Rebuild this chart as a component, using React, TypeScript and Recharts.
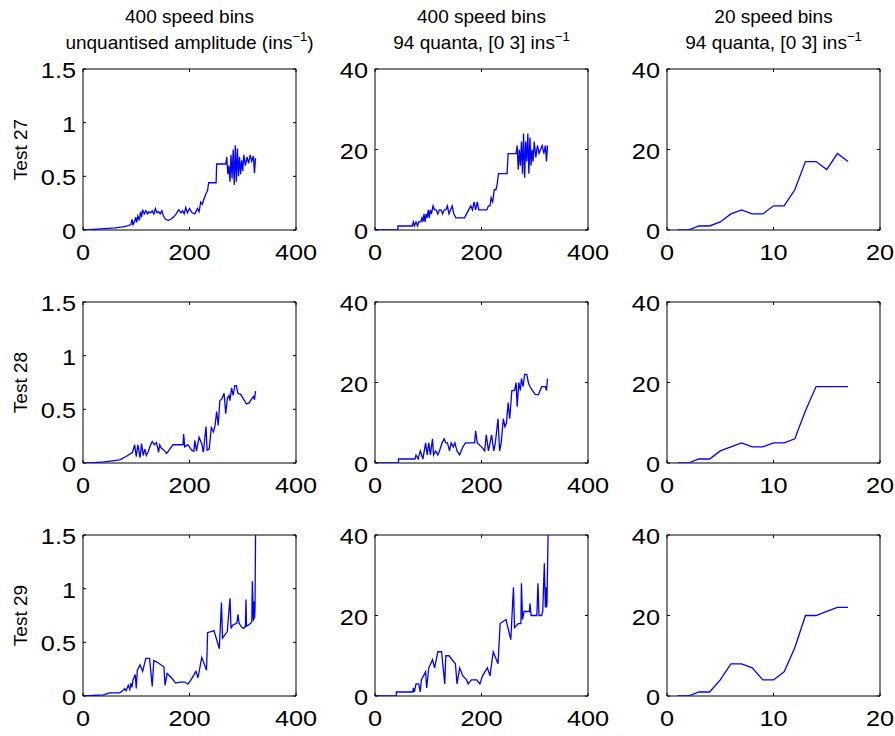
import React from "react";
import { LineChart, Line, XAxis, YAxis, ReferenceArea } from "recharts";

type Pt = [number, number];

const rowLabels = ["Test 27", "Test 28", "Test 29"];
const binX = [1, 2, 3, 4, 5, 6, 7, 8, 9, 10, 11, 12, 13, 14, 15, 16, 17];

// 400 bins, unquantised amplitude
const t27Amp: Pt[] = [
  [0, 0], [20, 0.005], [40, 0.012], [60, 0.02], [75, 0.03], [85, 0.04], [90, 0.05], [92, 0.1],
  [94, 0.05], [97, 0.08], [99, 0.12], [101, 0.07], [103, 0.13], [106, 0.09], [108, 0.17], [110, 0.12],
  [112, 0.19], [115, 0.15], [118, 0.18], [121, 0.15], [124, 0.17], [127, 0.16], [130, 0.18], [133, 0.15],
  [136, 0.2], [139, 0.16], [142, 0.17], [145, 0.15], [148, 0.18], [151, 0.13], [155, 0.1], [160, 0.09],
  [165, 0.1], [170, 0.12], [175, 0.15], [180, 0.19], [184, 0.16], [187, 0.18], [190, 0.15], [193, 0.21],
  [196, 0.16], [200, 0.2], [205, 0.16], [210, 0.15], [215, 0.2], [218, 0.17], [221, 0.26], [224, 0.24],
  [228, 0.3], [231, 0.34], [234, 0.37], [236, 0.44], [250, 0.44], [251, 0.615], [268, 0.615], [270, 0.68],
  [272, 0.52], [274, 0.6], [276, 0.45], [278, 0.7], [280, 0.48], [282, 0.75], [284, 0.42], [286, 0.79],
  [288, 0.45], [290, 0.76], [292, 0.5], [294, 0.68], [296, 0.52], [298, 0.65], [300, 0.55], [302, 0.7],
  [305, 0.6], [308, 0.68], [311, 0.62], [314, 0.7], [317, 0.64], [320, 0.69], [322, 0.53], [324, 0.67],
];
const t28Amp: Pt[] = [
  [0, 0], [20, 0.004], [40, 0.01], [55, 0.02], [69, 0.03], [81, 0.06], [93, 0.1], [97, 0.17],
  [100, 0.06], [103, 0.17], [107, 0.05], [110, 0.18], [113, 0.07], [116, 0.13], [119, 0.07], [122, 0.1],
  [127, 0.17], [130, 0.2], [134, 0.17], [138, 0.19], [142, 0.1], [144, 0.17], [147, 0.14], [152, 0.12],
  [157, 0.09], [163, 0.13], [169, 0.17], [182, 0.17], [188, 0.17], [189, 0.27], [191, 0.15], [197, 0.17],
  [204, 0.12], [208, 0.11], [210, 0.21], [213, 0.11], [218, 0.24], [223, 0.18], [226, 0.1], [231, 0.34],
  [233, 0.12], [237, 0.13], [241, 0.33], [245, 0.29], [248, 0.35], [251, 0.48], [254, 0.35], [257, 0.58],
  [261, 0.6], [265, 0.65], [268, 0.46], [271, 0.6], [274, 0.63], [276, 0.58], [279, 0.7], [282, 0.63],
  [285, 0.72], [288, 0.72], [291, 0.65], [296, 0.64], [301, 0.6], [307, 0.55], [312, 0.56], [317, 0.6],
  [320, 0.62], [322, 0.59], [324, 0.67],
];
const t29Amp: Pt[] = [
  [0, 0], [19, 0.005], [38, 0.01], [50, 0.03], [69, 0.03], [75, 0.05], [78, 0.07], [81, 0.05],
  [85, 0.1], [88, 0.06], [90, 0.12], [92, 0.08], [94, 0.15], [98, 0.2], [100, 0.07], [102, 0.24],
  [107, 0.29], [112, 0.23], [118, 0.35], [125, 0.35], [130, 0.09], [133, 0.33], [141, 0.31], [152, 0.27],
  [154, 0.1], [158, 0.21], [166, 0.17], [174, 0.12], [182, 0.13], [191, 0.13], [197, 0.11], [204, 0.16],
  [212, 0.23], [216, 0.17], [223, 0.36], [232, 0.24], [234, 0.59], [246, 0.61], [256, 0.44], [260, 0.87],
  [262, 0.54], [271, 0.6], [276, 0.91], [278, 0.63], [281, 0.66], [289, 0.68], [291, 0.76], [293, 0.68],
  [298, 0.64], [302, 0.63], [305, 0.65], [306, 0.9], [307, 0.65], [313, 0.67], [317, 0.69], [318, 1.07],
  [320, 0.7], [321, 0.88], [322, 0.72], [323, 0.8], [324, 1.5],
];

// 400 bins, 94 quanta
const t27Quant: Pt[] = [
  [0, 0], [43, 0], [43, 1], [70, 1], [72, 2], [74, 1], [77, 2], [80, 1], [82, 2], [86, 2], [88, 3],
  [90, 2], [92, 4], [94, 2], [96, 4], [98, 3], [100, 5], [102, 3], [104, 5], [106, 4], [109, 6],
  [112, 5], [115, 5], [118, 4], [121, 5], [124, 5], [127, 4], [130, 5], [133, 5], [136, 6], [139, 4],
  [142, 5], [145, 6], [148, 4], [152, 3], [160, 3], [168, 3], [172, 4], [176, 5], [180, 6], [183, 5],
  [186, 7], [189, 5], [192, 7], [195, 5], [200, 5], [210, 5], [213, 6], [216, 6], [218, 8], [221, 7],
  [224, 10], [227, 10], [229, 11], [232, 14], [248, 14], [250, 19], [265, 19], [267, 21], [269, 15],
  [271, 20], [273, 16], [275, 22], [277, 14], [279, 24], [281, 13], [283, 22], [285, 17], [287, 24],
  [289, 14], [291, 23], [293, 16], [295, 20], [297, 17], [299, 22], [302, 18], [305, 21], [308, 19],
  [311, 20], [314, 21], [317, 19], [320, 21], [322, 17], [324, 21],
];
const t28Quant: Pt[] = [
  [0, 0], [44, 0], [44, 1], [75, 1], [77, 2], [81, 1], [85, 3], [90, 1], [95, 5], [98, 2], [101, 5],
  [104, 2], [108, 6], [110, 2], [114, 3], [118, 2], [121, 3], [126, 5], [130, 6], [133, 5], [136, 5],
  [140, 3], [143, 5], [147, 4], [150, 5], [154, 3], [159, 2], [165, 4], [170, 5], [187, 5], [189, 8],
  [192, 5], [200, 4], [206, 3], [209, 7], [213, 3], [219, 7], [223, 3], [226, 5], [231, 11], [234, 3],
  [237, 5], [241, 11], [244, 9], [247, 10], [250, 15], [253, 11], [257, 18], [262, 18], [265, 20],
  [267, 14], [270, 20], [273, 18], [275, 21], [278, 19], [281, 22], [285, 22], [288, 20], [291, 19],
  [296, 18], [301, 17], [307, 17], [313, 19], [320, 19], [322, 18], [324, 21],
];
const t29Quant: Pt[] = [
  [0, 0], [40, 0], [40, 1], [71, 1], [72, 2], [74, 1], [77, 3], [82, 3], [85, 1], [87, 4], [91, 5],
  [95, 6], [97, 2], [101, 7], [108, 9], [112, 7], [118, 11], [125, 11], [131, 3], [133, 10], [139, 10],
  [151, 8], [154, 3], [159, 7], [165, 5], [172, 4], [175, 3], [181, 4], [191, 4], [197, 3], [202, 5],
  [211, 7], [216, 5], [222, 11], [231, 8], [235, 18], [246, 19], [255, 14], [260, 27], [262, 17],
  [269, 18], [274, 18], [275, 28], [277, 19], [280, 21], [290, 21], [291, 23], [293, 20], [304, 20],
  [306, 28], [308, 20], [313, 20], [315, 21], [318, 33], [320, 22], [321, 27], [322, 22], [323, 23],
  [325, 40],
];

// 20 bins, 94 quanta
const t27Bins = [0, 0, 1, 1, 2, 4, 5, 4, 4, 6, 6, 10, 17, 17, 15, 19, 17];
const t28Bins = [0, 0, 1, 1, 3, 4, 5, 4, 4, 5, 5, 6, 13, 19, 19, 19, 19];
const t29Bins = [0, 0, 1, 1, 4, 8, 8, 7, 4, 4, 6, 12, 20, 20, 21, 22, 22];

const FONT = '"Liberation Sans", Arial, Helvetica, sans-serif';
const PW = 213;
const PH = 161;
const colLeft = [83, 375, 667];
const rowTop = [69, 302, 535];

const toRows = (pts: Pt[]) => pts.map(([x, y]) => ({ x, y }));
const binRows = (vals: number[]) => vals.map((y, i) => ({ x: binX[i], y }));

const XTick = (props: any) => {
  const { x, y, payload } = props;
  return (
    <g>
      <line x1={x} y1={y} x2={x} y2={y - 3} stroke="#000" />
      <line x1={x} y1={y - PH} x2={x} y2={y - PH + 3} stroke="#000" />
      <text
        transform={`translate(${x},${y + 30}) scale(1.15,1)`}
        textAnchor="middle"
        fontSize={22}
        fontFamily={FONT}
        fill="#000"
      >
        {payload.value}
      </text>
    </g>
  );
};

const YTick = (props: any) => {
  const { x, y, payload } = props;
  return (
    <g>
      <line x1={x} y1={y} x2={x + 3} y2={y} stroke="#000" />
      <line x1={x + PW} y1={y} x2={x + PW - 3} y2={y} stroke="#000" />
      <text
        transform={`translate(${x - 7},${y + 9}) scale(1.15,1)`}
        textAnchor="end"
        fontSize={22}
        fontFamily={FONT}
        fill="#000"
      >
        {payload.value}
      </text>
    </g>
  );
};

interface PanelProps {
  data: { x: number; y: number }[];
  xMax: number;
  xTicks: number[];
  yMax: number;
  yTicks: number[];
  left: number;
  top: number;
}

const Panel = ({ data, xMax, xTicks, yMax, yTicks, left, top }: PanelProps) => (
  <div style={{ position: "absolute", left: left - 60, top: top - 20 }}>
    <LineChart width={303} height={221} data={data} margin={{ top: 20, right: 30, bottom: 0, left: 0 }}>
      <XAxis
        type="number"
        dataKey="x"
        domain={[0, xMax]}
        ticks={xTicks}
        interval={0}
        height={40}
        tickSize={0}
        tickMargin={0}
        axisLine={false}
        tickLine={false}
        allowDataOverflow
        tick={(p: any) => <XTick {...p} />}
      />
      <YAxis
        type="number"
        domain={[0, yMax]}
        ticks={yTicks}
        interval={0}
        width={60}
        tickSize={0}
        tickMargin={0}
        axisLine={false}
        tickLine={false}
        allowDataOverflow
        tick={(p: any) => <YTick {...p} />}
      />
      <ReferenceArea x1={0} x2={xMax} y1={0} y2={yMax} fill="none" stroke="#000" strokeWidth={1} ifOverflow="visible" />
      <Line type="linear" dataKey="y" stroke="#0000ff" strokeWidth={1.3} dot={false} isAnimationActive={false} />
    </LineChart>
  </div>
);

const grid = [
  [toRows(t27Amp), toRows(t27Quant), binRows(t27Bins)],
  [toRows(t28Amp), toRows(t28Quant), binRows(t28Bins)],
  [toRows(t29Amp), toRows(t29Quant), binRows(t29Bins)],
];

const colAxes = [
  { xMax: 400, xTicks: [0, 200, 400], yMax: 1.5, yTicks: [0, 0.5, 1, 1.5] },
  { xMax: 400, xTicks: [0, 200, 400], yMax: 40, yTicks: [0, 20, 40] },
  { xMax: 20, xTicks: [0, 10, 20], yMax: 40, yTicks: [0, 20, 40] },
];

const titles = [
  ["400 speed bins", "unquantised amplitude (ins", ")"],
  ["400 speed bins", "94 quanta, [0 3] ins", ""],
  ["20 speed bins", "94 quanta, [0 3] ins", ""],
];

export default function App() {
  return (
    <div
      style={{
        position: "absolute",
        left: 0,
        top: 0,
        width: 895,
        height: 736,
        overflow: "hidden",
        background: "#fff",
      }}
    >
      {grid.map((row, r) =>
        row.map((data, c) => (
          <Panel key={`${r}-${c}`} data={data} {...colAxes[c]} left={colLeft[c]} top={rowTop[r]} />
        ))
      )}
      <svg
        width={895}
        height={736}
        style={{ position: "absolute", left: 0, top: 0, pointerEvents: "none" }}
      >
        {titles.map((t, c) => {
          const cx = colLeft[c] + PW / 2;
          return (
            <g key={c} fontFamily={FONT} fontSize={19} fill="#000">
              <text x={cx} y={23} textAnchor="middle">
                {t[0]}
              </text>
              <text x={cx} y={49} textAnchor="middle">
                <tspan>{t[1]}</tspan>
                <tspan dy={-8} fontSize={13}>
                  −1
                </tspan>
                {t[2] ? <tspan dy={8}>{t[2]}</tspan> : null}
              </text>
            </g>
          );
        })}
        {rowLabels.map((label, r) => (
          <text
            key={label}
            transform={`translate(27,${rowTop[r] + PH / 2}) rotate(-90)`}
            textAnchor="middle"
            fontFamily={FONT}
            fontSize={19}
            fill="#000"
          >
            {label}
          </text>
        ))}
      </svg>
    </div>
  );
}
